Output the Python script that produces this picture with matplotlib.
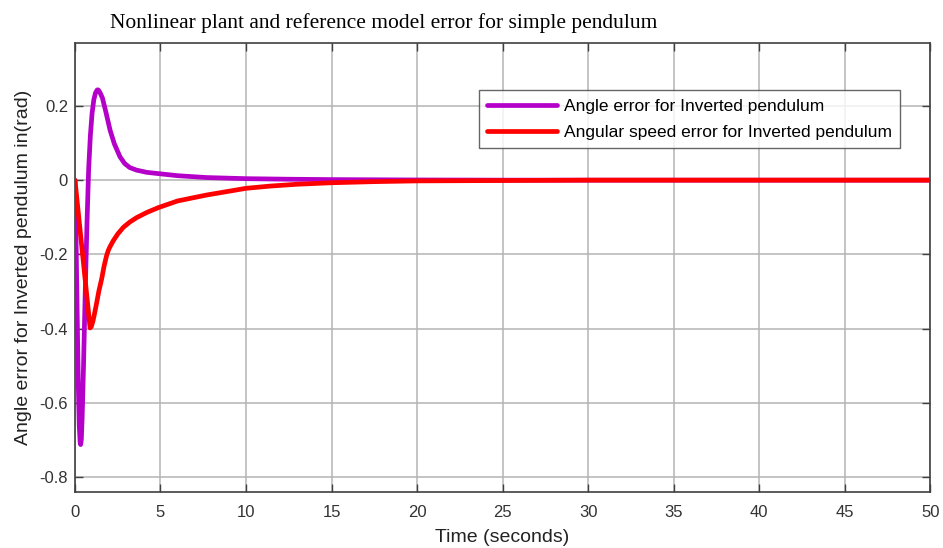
"""
Nonlinear plant vs reference model error (simple pendulum), MATLAB-style plot.
"""

import matplotlib
matplotlib.use("Agg")
import matplotlib.pyplot as plt

# time samples (s) and angle error (rad)
t_angle = [0, 0.05, 0.1, 0.15, 0.2, 0.25, 0.3, 0.33, 0.37, 0.42, 0.5, 0.6,
           0.7, 0.8, 0.9, 1.0, 1.1, 1.2, 1.3, 1.36, 1.45, 1.6, 1.8, 2.05,
           2.3, 2.63, 2.9, 3.2, 3.6, 4.2, 5, 6, 7.7, 10, 12.5, 15, 17.5,
           20, 25, 30, 40, 50]
angle_err = [0, -0.12, -0.27, -0.42, -0.56, -0.66, -0.705, -0.712, -0.70,
             -0.64, -0.50, -0.30, -0.12, 0.03, 0.12, 0.18, 0.216, 0.235,
             0.243, 0.243, 0.237, 0.222, 0.185, 0.135, 0.098, 0.063, 0.045,
             0.034, 0.027, 0.021, 0.017, 0.012, 0.007, 0.004, 0.0025,
             0.0015, 0.001, 0.0005, 0, 0, 0, 0]

# time samples (s) and angular speed error
t_speed = [0, 0.1, 0.2, 0.3, 0.4, 0.5, 0.6, 0.7, 0.8, 0.88, 0.95, 1.05,
           1.15, 1.27, 1.4, 1.56, 1.7, 1.85, 1.95, 2.05, 2.24, 2.5, 2.83,
           3.2, 3.6, 4.2, 4.87, 6, 7.7, 10, 11.4, 13, 15, 17.5, 20, 25, 30,
           40, 50]
speed_err = [0, -0.045, -0.09, -0.135, -0.18, -0.225, -0.27, -0.315, -0.36,
             -0.398, -0.395, -0.38, -0.358, -0.33, -0.298, -0.266, -0.232,
             -0.203, -0.189, -0.179, -0.163, -0.145, -0.127, -0.113, -0.101,
             -0.087, -0.074, -0.056, -0.040, -0.022, -0.016, -0.011, -0.007,
             -0.004, -0.002, -0.001, 0, 0, 0]

x_ticks = [0, 5, 10, 15, 20, 25, 30, 35, 40, 45, 50]
y_ticks = [-0.8, -0.6, -0.4, -0.2, 0, 0.2]
y_tick_labels = ["-0.8", "-0.6", "-0.4", "-0.2", "0", "0.2"]

labels = ["Angle error for Inverted pendulum",
          "Angular speed error for Inverted pendulum"]


def main():
    plt.rcParams["font.family"] = ["Liberation Sans", "DejaVu Sans"]

    fig = plt.figure(figsize=(9.43, 5.48), dpi=100)
    ax = fig.add_axes([0.0795, 0.102, 0.907, 0.820])

    ax.plot(t_angle, angle_err, color="#B400C8", lw=3.4, label=labels[0],
            solid_capstyle="round", solid_joinstyle="round", zorder=3)
    ax.plot(t_speed, speed_err, color="#FF0000", lw=3.4, label=labels[1],
            solid_capstyle="round", solid_joinstyle="round", zorder=3)

    ax.set_xlim(0, 50)
    ax.set_ylim(-0.84, 0.37)
    ax.set_xticks(x_ticks)
    ax.set_yticks(y_ticks)
    ax.set_yticklabels(y_tick_labels)

    ax.grid(True, color="#b4b4b4", lw=1.1)
    ax.set_axisbelow(True)
    ax.tick_params(direction="in", top=True, right=True, length=6,
                   width=1.0, color="#404040", labelsize=12,
                   labelcolor="#333333")
    ax.tick_params(axis="x", pad=9)
    ax.tick_params(axis="y", pad=5)
    for s in ax.spines.values():
        s.set_color("#404040")
        s.set_linewidth(1.2)

    ax.set_xlabel("Time (seconds)", fontsize=14, color="#222222", labelpad=7)
    ax.set_ylabel("Angle error for Inverted pendulum in(rad)", fontsize=14,
                  color="#222222", labelpad=5)

    fig.text(0.407, 0.958, "Nonlinear plant and reference model error for simple pendulum",
             family="Liberation Serif", fontsize=15.5, ha="center", va="center",
             color="black")

    leg = ax.legend(loc="upper right", bbox_to_anchor=(0.965, 0.895),
                    fontsize=12.5, frameon=True, fancybox=False,
                    handlelength=4.0, borderpad=0.5, labelspacing=0.62,
                    handletextpad=0.4, borderaxespad=0.0)
    leg.get_frame().set_edgecolor("#404040")
    leg.get_frame().set_linewidth(1.0)

    fig.savefig("out.png", dpi=100)
    plt.close(fig)


if __name__ == "__main__":
    main()
